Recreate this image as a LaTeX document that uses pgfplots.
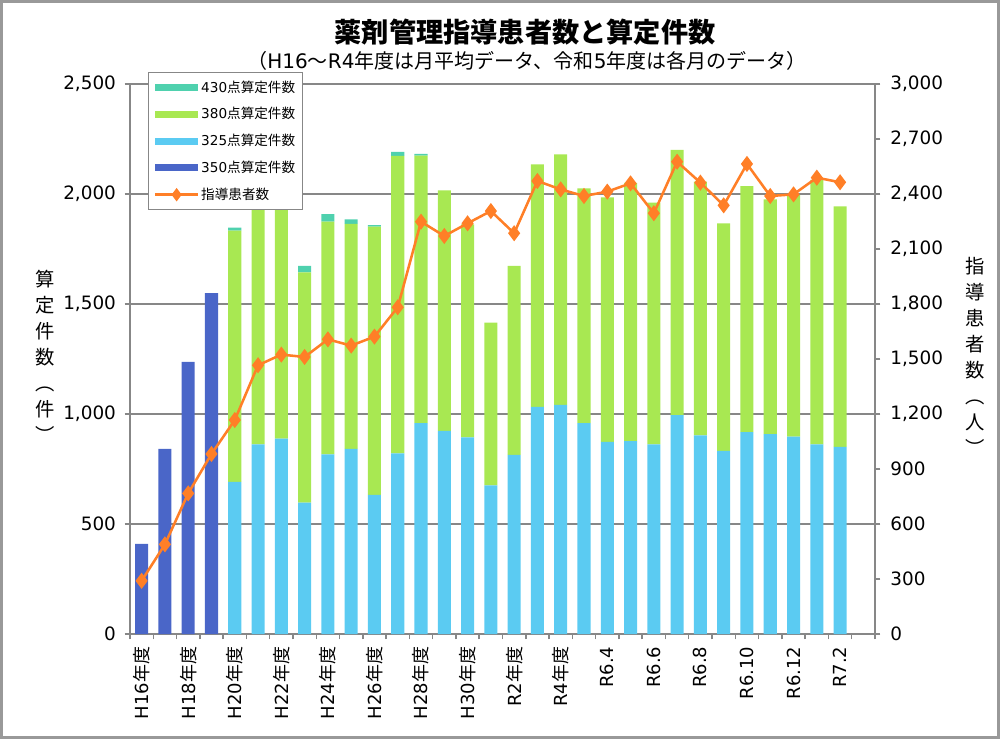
\documentclass[border=0pt]{standalone}
\usepackage{fontspec}
\setmainfont{Noto Sans CJK JP}
\newfontfamily\lat{DejaVu Sans}
\usepackage{pgfplots}
\usepackage{pgfplotstable}
\pgfplotsset{compat=1.18}
\definecolor{c350}{HTML}{4A66C8}
\definecolor{c325}{HTML}{5BCBF2}
\definecolor{c380}{HTML}{A8E852}
\definecolor{c430}{HTML}{4FD1AE}
\definecolor{cline}{HTML}{FF7F27}
\definecolor{cgrid}{HTML}{878787}
\pgfplotsset{
  barleg/.style={legend image code/.code={\fill[##1] (0pt,-2.6pt) rectangle (32pt,2.6pt);}},
  lineleg/.style={legend image code/.code={\draw[##1, mark=none] (0pt,0pt) -- (32pt,0pt); \draw[##1] plot coordinates {(16pt,0pt)};}},
}
\pgfplotstableread{
x  a350 a325 a380 a430 pat
0  410  0    0    0    290
1  842  0    0    0    489
2  1237 0    0    0    767
3  1549 0    0    0    982
4  0    692  1141 14   1167
5  0    862  1188 10   1466
6  0    888  1172 10   1524
7  0    597  1047 29   1511
8  0    817  1057 35   1607
9  0    842  1022 21   1573
10 0    632  1220 7    1622
11 0    821  1352 19   1782
12 0    959  1215 8    2249
13 0    923  1094 0    2171
14 0    894  968  0    2240
15 0    676  739  0    2307
16 0    814  859  0    2186
17 0    1032 1103 0    2471
18 0    1042 1138 0    2425
19 0    959  1066 0    2389
20 0    873  1112 0    2413
21 0    877  1174 0    2458
22 0    862  1099 0    2295
23 0    995  1205 0    2576
24 0    903  1153 0    2462
25 0    832  1035 0    2338
26 0    918  1118 0    2564
27 0    909  1067 0    2389
28 0    897  1098 0    2398
29 0    862  1202 0    2489
30 0    851  1093 0    2464
}\data
\begin{document}
\begin{tikzpicture}
\begin{axis}[
  at={(0pt,0pt)}, anchor=south west,
  width=558.75pt, height=412.5pt, scale only axis,
  xmin=-0.5, xmax=31.5, ymin=0, ymax=2500,
  ybar stacked, bar width=0.56,
  axis x line*=bottom, axis y line*=left,
  axis line style={cgrid, line width=1.2pt},
  ymajorgrids, major grid style={cgrid, line width=1.1pt},
  tick align=outside, major tick length=4pt,
  tick style={cgrid, line width=1.1pt},
  ytick={0,500,...,2500},
  xtick={-0.5,0.5,...,31.5}, xticklabels={},
  extra x ticks={0,2,...,30},
  extra x tick labels={{\lat H16}年度,{\lat H18}年度,{\lat H20}年度,{\lat H22}年度,{\lat H24}年度,{\lat H26}年度,{\lat H28}年度,{\lat H30}年度,{\lat R2}年度,{\lat R4}年度,{\lat R6.4},{\lat R6.6},{\lat R6.8},{\lat R6.10},{\lat R6.12},{\lat R7.2}},
  extra x tick style={major tick length=0pt, xticklabel style={yshift=-6pt, rotate=90, anchor=east}},
  xticklabel style={font=\fontsize{13.5}{15}\selectfont},
  yticklabel style={font=\lat\fontsize{13.8}{15}\selectfont, xshift=-3pt},
  /pgf/number format/1000 sep={,},
  /pgf/number format/assume math mode=true,
  ylabel={\begin{tabular}{@{}c@{}}算\\定\\件\\数\\︵\\件\\︶\end{tabular}},
  ylabel style={font=\fontsize{14.5}{19.5}\selectfont, rotate=-90, at={(axis description cs:-0.114,0.5)}, anchor=center},
  reverse legend,
  legend style={at={(0.0242,1.0218)}, anchor=north west, draw=cgrid, line width=1pt, fill=white,
    font=\fontsize{10.2}{12}\selectfont, row sep=6pt, inner sep=4pt, nodes={inner xsep=1.5pt}},
  legend cell align=left,
]
\addlegendimage{lineleg, cline, line width=1.9pt, mark=diamond*, mark size=3.5pt}
\addplot[fill=c350, draw=none, barleg] table[x=x,y=a350]{\data};
\addplot[fill=c325, draw=none, barleg] table[x=x,y=a325]{\data};
\addplot[fill=c380, draw=none, barleg] table[x=x,y=a380]{\data};
\addplot[fill=c430, draw=none, barleg] table[x=x,y=a430]{\data};
\legend{指導患者数,{\lat 350}点算定件数,{\lat 325}点算定件数,{\lat 380}点算定件数,{\lat 430}点算定件数}
\end{axis}
\begin{axis}[
  at={(0pt,0pt)}, anchor=south west,
  width=558.75pt, height=412.5pt, scale only axis,
  xmin=-0.5, xmax=31.5, ymin=0, ymax=3000,
  axis y line*=right, axis x line=none,
  axis line style={cgrid, line width=1.2pt},
  tick align=outside, major tick length=4pt,
  tick style={cgrid, line width=1.1pt},
  ytick={0,300,...,3000},
  yticklabel style={font=\lat\fontsize{13.8}{15}\selectfont, xshift=4pt},
  /pgf/number format/1000 sep={,},
  /pgf/number format/assume math mode=true,
  ylabel={\begin{tabular}{@{}c@{}}指\\導\\患\\者\\数\\︵\\人\\︶\end{tabular}},
  ylabel style={font=\fontsize{14.5}{19.5}\selectfont, rotate=-90, at={(axis description cs:1.134,0.5)}, anchor=center},
]
\addplot[cline, line width=1.9pt, mark=diamond*, mark size=4.5pt] table[x=x,y=pat]{\data};
\end{axis}
\node[font=\bfseries\fontsize{20.4}{24}\selectfont] at (296.25pt,451.5pt) {薬剤管理指導患者数と算定件数};
\node[font=\fontsize{15}{17}\selectfont] at (297.75pt,429.5pt) {（{\lat H16}～{\lat R4}年度は月平均データ、令和{\lat 5}年度は各月のデータ）};
\draw[color=black!40, line width=2pt] (-96.5pt,-77.75pt) rectangle (651.5pt,474.5pt);
\end{tikzpicture}
\end{document}
